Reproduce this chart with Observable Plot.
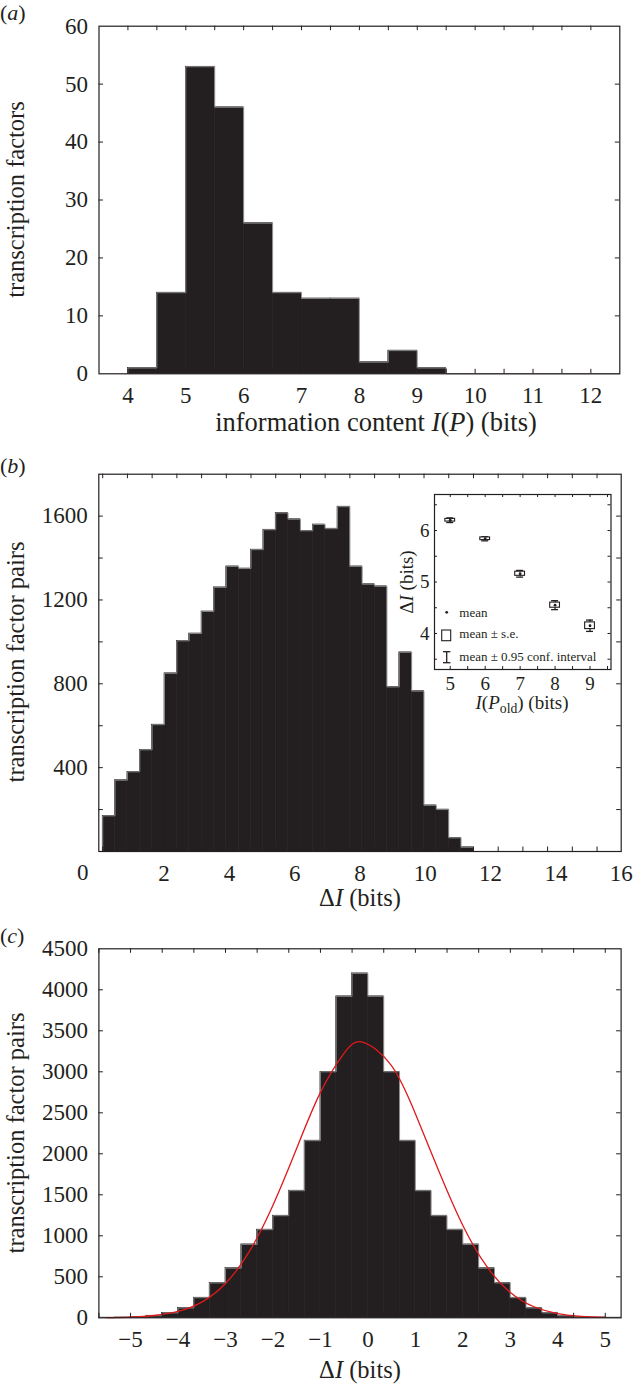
<!DOCTYPE html>
<html><head><meta charset="utf-8">
<script src="https://cdn.jsdelivr.net/npm/d3@7"></script>
<script src="https://cdn.jsdelivr.net/npm/@observablehq/plot@0.6"></script>
<style>
html,body{margin:0;padding:0;background:#fff;}
#wrap{position:relative;width:633px;height:1385px;overflow:hidden;background:#fff;}
#wrap svg{position:absolute;overflow:visible;}
</style></head><body><div id="wrap"></div>
<script>
// ---------------- data ----------------
// (a) information content histogram, bins of 0.5 bits starting at 4
const binStartA = 4, binWidthA = 0.5;
const countsA = [1, 14, 53, 46, 26, 14, 13, 13, 2, 4, 1, 0, 0, 0, 0, 0, 0];
const xLabelsA = [4, 5, 6, 7, 8, 9, 10, 11, 12];
const yLabelsA = [0, 10, 20, 30, 40, 50, 60];

// (b) ΔI histogram
const binStartB = 0.12, binWidthB = 0.3785;
const countsB = [170, 340, 380, 485, 605, 850, 1005, 1040, 1145, 1260, 1360, 1350, 1440, 1535, 1615,
                 1585, 1530, 1560, 1540, 1645, 1360, 1275, 1265, 785, 950, 765, 220, 200, 65, 20];
const xLabelsB = [2, 4, 6, 8, 10, 12, 14, 16];
const yLabelsB = [400, 800, 1200, 1600];

// (b) inset
const insetX = [5, 6, 7, 8, 9];
const insetMean = [6.2, 5.84, 5.16, 4.55, 4.15];
const insetSE = [0.026, 0.026, 0.04, 0.05, 0.065];
const insetCI = [0.045, 0.04, 0.065, 0.087, 0.11];
const insetXLabels = [5, 6, 7, 8, 9];
const insetYLabels = [4, 5, 6];

// (c) ΔI histogram with normal fit
const binStartC = -17 / 3, binWidthC = 1 / 3;
const countsC = [2, 4, 12, 25, 60, 120, 245, 425, 605, 895, 1075, 1245, 1550, 2160, 3000, 3920, 4200,
                 3920, 3000, 2160, 1550, 1245, 1075, 895, 605, 425, 245, 120, 60, 25, 12, 4, 2];
const fitX = [-5.5, -5, -4.5, -4, -3.5, -3, -2.5, -2, -1.5, -1, -0.5, -0.1, 0.5, 1, 1.5, 2, 2.5, 3, 3.5, 4, 4.5, 5];
const fitY = [2, 9, 28, 77, 191, 418, 806, 1373, 2067, 2749, 3229, 3360, 3073, 2489, 1781, 1126, 629, 310, 135, 52, 18, 5];
const xLabelsC = [-5, -4, -3, -2, -1, 0, 1, 2, 3, 4, 5];
const yLabelsC = [0, 500, 1000, 1500, 2000, 2500, 3000, 3500, 4000, 4500];

// ---------------- helpers ----------------
const serif = '"Liberation Serif","Times New Roman",Times,serif';
const ink = "#231f20";
const W = 633;
const wrap = document.getElementById("wrap");
const fmt = d => d < 0 ? "\u2212" + Math.abs(d) : String(d);

function place(svg, top, left = 0) {
  svg.style.top = top + "px"; svg.style.left = left + "px";
  wrap.appendChild(svg); return svg;
}
function bins(counts, start, w) {
  return counts.map((c, i) => ({x1: start + i * w, x2: start + (i + 1) * w, y: c}));
}
function outline(counts, start, w) {
  const pts = [{x: start, y: 0}];
  counts.forEach((c, i) => pts.push({x: start + i * w, y: c}));
  const end = start + counts.length * w;
  pts.push({x: end, y: counts[counts.length - 1]});
  pts.push({x: end, y: 0});
  return pts;
}
function histMarks(counts, start, w) {
  return [
    Plot.rectY(bins(counts, start, w), {x1: "x1", x2: "x2", y: "y", fill: ink, stroke: ink, strokeWidth: 0.6}),
    Plot.line(outline(counts, start, w), {x: "x", y: "y", curve: "step-after", stroke: "#8c8c8c", strokeWidth: 0.9})
  ];
}
function innerTicks(xt, yt, fw, fh, len, sw) {
  const o = {stroke: ink, strokeWidth: sw};
  return [
    Plot.tickX(xt, {x: d => d, insetTop: fh - len, ...o}),
    Plot.tickX(xt, {x: d => d, insetBottom: fh - len, ...o}),
    Plot.tickY(yt, {y: d => d, insetRight: fw - len, ...o}),
    Plot.tickY(yt, {y: d => d, insetLeft: fw - len, ...o})
  ];
}
function addText(svg, x, y, parts, size, {anchor = "middle", rotate = false} = {}) {
  const t = d3.select(svg).append("text")
    .attr("font-family", serif).attr("font-size", size).attr("fill", ink)
    .attr("text-anchor", anchor);
  if (rotate) t.attr("transform", `translate(${x},${y}) rotate(-90)`);
  else t.attr("x", x).attr("y", y);
  parts.forEach(p => {
    const s = t.append("tspan").text(p.t);
    if (p.i) s.attr("font-style", "italic");
    if (p.sub) s.attr("baseline-shift", "-25%").attr("font-size", size * 0.72);
  });
  return t;
}
const baseStyle = size => ({fontFamily: serif, fontSize: size + "px", color: ink, background: "none", overflow: "visible"});
const TICK = 23, TITLE = 24.5;

// ---------------- panel (a) ----------------
{
  const m = {top: 25.7, bottom: 46.7, left: 98.5, right: 13.7}, h = 420;
  const fw = W - m.left - m.right, fh = h - m.top - m.bottom;
  const svg = Plot.plot({
    width: W, height: h, marginTop: m.top, marginBottom: m.bottom, marginLeft: m.left, marginRight: m.right,
    style: baseStyle(TICK),
    x: {domain: [3.5, 12.5]}, y: {domain: [0, 60]},
    marks: [
      ...histMarks(countsA, binStartA, binWidthA),
      ...innerTicks(d3.range(4, 12.01, 0.5), d3.range(10, 60, 10), fw, fh, 4.5, 1),
      Plot.axisX({ticks: xLabelsA, tickSize: 0, tickPadding: 13, tickFormat: fmt, label: null}),
      Plot.axisY({ticks: yLabelsA, tickSize: 0, tickPadding: 11, tickFormat: fmt, label: null}),
      Plot.frame({stroke: ink, strokeWidth: 1.2})
    ]
  });
  place(svg, 0);
  addText(svg, 0, 20, [{t: "("}, {t: "a", i: true}, {t: ")"}], 22, {anchor: "start"});
  addText(svg, 24, m.top + fh / 2, [{t: "transcription factors"}], TITLE, {rotate: true});
  addText(svg, 376, 431, [{t: "information content "}, {t: "I", i: true}, {t: "("}, {t: "P", i: true}, {t: ") (bits)"}], 26.5);
}

// ---------------- panel (b) ----------------
{
  const top = 440, h = 460;
  const m = {top: 33.7, bottom: 49, left: 98.3, right: 12.3};
  const fw = W - m.left - m.right, fh = h - m.top - m.bottom;
  const xt = d3.range(0, 21).map(k => binStartB + 2 * k * binWidthB);
  const svg = Plot.plot({
    width: W, height: h, marginTop: m.top, marginBottom: m.bottom, marginLeft: m.left, marginRight: m.right,
    style: baseStyle(TICK),
    x: {domain: [0, 16]}, y: {domain: [0, 1800]},
    marks: [
      ...histMarks(countsB, binStartB, binWidthB),
      ...innerTicks(xt, d3.range(200, 1800, 200), fw, fh, 4.5, 1),
      Plot.axisX({ticks: xLabelsB, tickSize: 0, tickPadding: 13, tickFormat: fmt, label: null}),
      Plot.text([0], {x: d => d, frameAnchor: "bottom", text: d => fmt(d), lineAnchor: "top", dy: 12, dx: -16}),
      Plot.axisY({ticks: yLabelsB, tickSize: 0, tickPadding: 11, tickFormat: fmt, label: null}),
      Plot.frame({stroke: ink, strokeWidth: 1.2})
    ]
  });
  place(svg, top);
  addText(svg, 0, 473 - top, [{t: "("}, {t: "b", i: true}, {t: ")"}], 22, {anchor: "start"});
  addText(svg, 24, 662 - top, [{t: "transcription factor pairs"}], TITLE, {rotate: true});
  addText(svg, 360, 906 - top, [{t: "\u0394"}, {t: "I", i: true}, {t: " (bits)"}], TITLE);
}

// ---------------- inset of (b) ----------------
{
  const left = 395, top = 485, w = 225, h = 235;
  const m = {top: 9, bottom: 51, left: 39, right: 9.5};
  const fw = w - m.left - m.right, fh = h - m.top - m.bottom;
  const pts = insetX.map((x, i) => ({x, m: insetMean[i], se: insetSE[i], ci: insetCI[i]}));
  const svg = Plot.plot({
    width: w, height: h, marginTop: m.top, marginBottom: m.bottom, marginLeft: m.left, marginRight: m.right,
    style: baseStyle(19),
    x: {domain: [4.55, 9.6]}, y: {domain: [3.3, 6.7]},
    marks: [
      Plot.frame({fill: "white"}),
      Plot.ruleX(pts, {x: "x", y1: d => d.m - d.ci, y2: d => d.m + d.ci, stroke: ink, strokeWidth: 1.3}),
      Plot.ruleY(pts, {y: d => d.m + d.ci, x1: d => d.x - 0.1, x2: d => d.x + 0.1, stroke: ink, strokeWidth: 1.3}),
      Plot.ruleY(pts, {y: d => d.m - d.ci, x1: d => d.x - 0.1, x2: d => d.x + 0.1, stroke: ink, strokeWidth: 1.3}),
      Plot.rect(pts, {x1: d => d.x - 0.14, x2: d => d.x + 0.14, y1: d => d.m - d.se, y2: d => d.m + d.se, fill: "white", stroke: ink, strokeWidth: 1.1}),
      Plot.dot(pts, {x: "x", y: "m", r: 1.4, fill: ink, stroke: "none"}),
      ...innerTicks(d3.range(5, 9.51, 0.5), d3.range(3.5, 6.51, 0.5), fw, fh, 3, 1),
      Plot.axisX({ticks: insetXLabels, tickSize: 0, tickPadding: 7, tickFormat: fmt, label: null}),
      Plot.axisY({ticks: insetYLabels, tickSize: 0, tickPadding: 5, tickFormat: fmt, label: null}),
      Plot.frame({stroke: ink, strokeWidth: 1.2})
    ]
  });
  place(svg, top, left);
  const g = d3.select(svg);
  // legend
  g.append("circle").attr("cx", 51.7).attr("cy", 127.3).attr("r", 1.4).attr("fill", ink);
  g.append("rect").attr("x", 46.7).attr("y", 145).attr("width", 9).attr("height", 10.7).attr("fill", "none").attr("stroke", ink).attr("stroke-width", 1.1);
  g.append("line").attr("x1", 51.7).attr("x2", 51.7).attr("y1", 166.7).attr("y2", 177.7).attr("stroke", ink).attr("stroke-width", 1.3);
  g.append("line").attr("x1", 48).attr("x2", 55.4).attr("y1", 166.7).attr("y2", 166.7).attr("stroke", ink).attr("stroke-width", 1.3);
  g.append("line").attr("x1", 48).attr("x2", 55.4).attr("y1", 177.7).attr("y2", 177.7).attr("stroke", ink).attr("stroke-width", 1.3);
  addText(svg, 64.3, 131.7, [{t: "mean"}], 13, {anchor: "start"});
  addText(svg, 64.3, 153.3, [{t: "mean \u00b1 s.e."}], 13, {anchor: "start"});
  addText(svg, 64.3, 175.7, [{t: "mean \u00b1 0.95 conf. interval"}], 13, {anchor: "start"});
  addText(svg, 18, 97, [{t: "\u0394"}, {t: "I", i: true}, {t: " (bits)"}], 19, {rotate: true});
  addText(svg, 127, 224, [{t: "I", i: true}, {t: "("}, {t: "P", i: true}, {t: "old", sub: true}, {t: ") (bits)"}], 19);
}

// ---------------- panel (c) ----------------
{
  const top = 900, h = 485;
  const m = {top: 48.3, bottom: 67.7, left: 98.4, right: 12.4};
  const fw = W - m.left - m.right, fh = h - m.top - m.bottom;
  const xt = d3.range(0, 17).map(k => binStartC + 2 * k * binWidthC);
  const svg = Plot.plot({
    width: W, height: h, marginTop: m.top, marginBottom: m.bottom, marginLeft: m.left, marginRight: m.right,
    style: baseStyle(TICK),
    x: {domain: [-17 / 3, 16 / 3]}, y: {domain: [0, 4500]},
    marks: [
      ...histMarks(countsC, binStartC, binWidthC),
      Plot.line(fitX.map((x, i) => ({x, y: fitY[i]})), {x: "x", y: "y", curve: "natural", stroke: "#e0191c", strokeWidth: 1.3}),
      ...innerTicks(xt, d3.range(500, 4500, 500), fw, fh, 4.5, 1),
      Plot.axisX({ticks: xLabelsC, tickSize: 0, tickPadding: 13, tickFormat: fmt, label: null}),
      Plot.axisY({ticks: yLabelsC, tickSize: 0, tickPadding: 11, tickFormat: fmt, label: null}),
      Plot.frame({stroke: ink, strokeWidth: 1.2})
    ]
  });
  place(svg, top);
  addText(svg, 0, 943 - top, [{t: "("}, {t: "c", i: true}, {t: ")"}], 22, {anchor: "start"});
  addText(svg, 24, 1133 - top, [{t: "transcription factor pairs"}], TITLE, {rotate: true});
  addText(svg, 360, 1378 - top, [{t: "\u0394"}, {t: "I", i: true}, {t: " (bits)"}], TITLE);
}
</script></body></html>
